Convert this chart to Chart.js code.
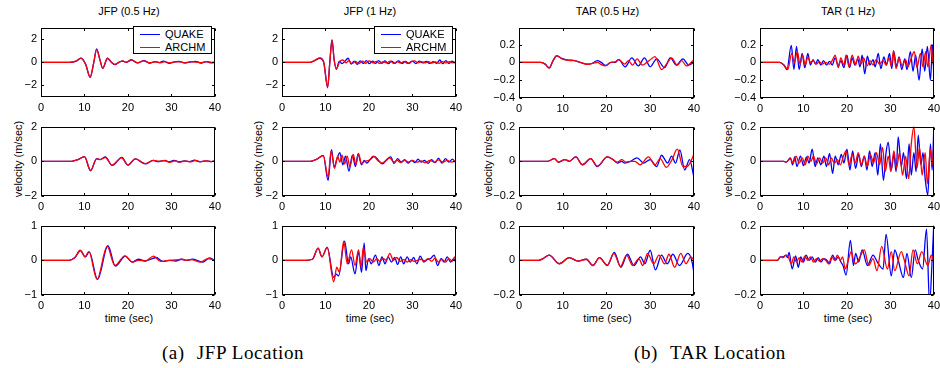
<!DOCTYPE html>
<html lang="en">
<head>
<meta charset="UTF-8" />
<title>QUAKE vs ARCHM velocity at JFP and TAR</title>
<script src="https://cdn.jsdelivr.net/npm/chart.js@4"></script>
<style>
	body {
		margin: 0;
		width: 940px;
		height: 368px;
		overflow: hidden;
		position: relative;
		background: #fff;
		color: #000;
		font-family: "Liberation Sans", Arial, sans-serif;
	}

	canvas {
		position: absolute;
	}

	.txt {
		position: absolute;
		font-size: 11px;
		line-height: 13px;
		white-space: nowrap;
		transform: translate(-50%, -50%);
	}

	.ylab {
		transform: translate(-50%, -50%) rotate(-90deg);
	}

	.caption {
		font-family: "Liberation Serif", "Times New Roman", serif;
		font-size: 19px;
		line-height: 20px;
		letter-spacing: 0.6px;
	}

	.caption .tag {
		margin-right: 12px;
	}

	.legend {
		position: absolute;
		width: 79px;
		height: 28px;
		box-sizing: border-box;
		border: 1px solid #000;
		background: #fff;
		font-size: 11px;
	}

	.legend .swatch {
		position: absolute;
		left: 6px;
		width: 20px;
		height: 0;
		border-top: 1.3px solid;
	}

	.legend .name {
		position: absolute;
		left: 31px;
		line-height: 13px;
	}
</style>
</head>
<body>
	<div class="txt" style="left:129px;top:10.5px">JFP (0.5 Hz)</div>
	<div class="txt" style="left:370px;top:10.5px">JFP (1 Hz)</div>
	<div class="txt" style="left:607.5px;top:10.5px">TAR (0.5 Hz)</div>
	<div class="txt" style="left:848px;top:10.5px">TAR (1 Hz)</div>

	<div class="txt ylab" style="left:18px;top:159px">velocity (m/sec)</div>
	<div class="txt ylab" style="left:258px;top:159px">velocity (m/sec)</div>
	<div class="txt ylab" style="left:488px;top:159px">velocity (m/sec)</div>
	<div class="txt ylab" style="left:728px;top:159px">velocity (m/sec)</div>

	<div class="txt" style="left:129px;top:318px">time (sec)</div>
	<div class="txt" style="left:370px;top:318px">time (sec)</div>
	<div class="txt" style="left:607.5px;top:318px">time (sec)</div>
	<div class="txt" style="left:848px;top:318px">time (sec)</div>

	<div class="txt caption" style="left:233px;top:353px"><span class="tag">(a)</span>JFP Location</div>
	<div class="txt caption" style="left:710px;top:353px"><span class="tag">(b)</span>TAR Location</div>

	<div id="charts"></div>

	<script>
		// --- data: [time (sec), velocity (m/sec)] ---
		const timeTicks = [0, 10, 20, 30, 40];
		const jfpRow1Ticks = [-2, 0, 2];
		const jfpRow2Ticks = [-2, 0, 2];
		const jfpRow3Ticks = [-1, 0, 1];
		const tarRow1Ticks = [-0.4, -0.2, 0, 0.2];
		const tarRow23Ticks = [-0.2, 0, 0.2];
		const seriesNames = ['QUAKE', 'ARCHM'];

		const jfp05Row1Quake = [[0,0],[6.5,0],[8,0.08],[9.2,0.35],[10.3,-0.2],[11.3,-1.3],[12.1,-0.1],[12.8,1.15],[13.5,0.3],[14.2,-0.52],[15.3,0.35],[16.2,0],[17,-0.2],[18,0.02],[18.8,0.1],[19.6,0],[20.8,0.2],[22.2,-0.05],[23.7,0.15],[25,-0.08],[26.3,0.05],[27.2,-0.02],[28.2,0.1],[29.5,-0.1],[30.5,0.02],[31.7,0.08],[33,-0.05],[34.2,0.02],[35.5,0.08],[36.8,-0.06],[38,0.05],[39.2,-0.05],[40,0]];
		const jfp05Row1Archm = [[0,0],[6.5,0],[8,0.1],[9.2,0.36],[10.3,-0.2],[11.3,-1.28],[12.1,-0.1],[12.8,1.12],[13.5,0.3],[14.2,-0.5],[15.3,0.33],[16.2,0],[17,-0.18],[18,0.02],[18.8,0.12],[19.6,0],[20.8,0.22],[22.2,-0.04],[23.6,0.12],[25,-0.05],[26.3,0.03],[27.5,-0.05],[28.5,0.06],[29.6,-0.05],[30.8,0.04],[32,0.03],[33.2,-0.06],[34.4,0.05],[35.6,0.02],[36.9,-0.04],[38.1,0.05],[39.3,0],[40,0.02]];

		const jfp1Row1Quake = [[0,0],[6.5,0],[7.5,0.15],[8.7,0.35],[9.6,0],[10.5,-2.2],[11,0],[11.5,1.95],[12,0.2],[12.5,-0.6],[13.2,0.1],[13.8,-0.12],[14.4,0.05],[15.2,0.35],[15.9,-0.15],[16.6,0.1],[17.3,-0.18],[18,0.12],[18.7,-0.1],[19.4,0.15],[20.1,-0.12],[20.8,0.1],[21.5,-0.1],[22.2,0.15],[23,-0.08],[23.7,0.12],[24.5,-0.12],[25.2,0.1],[26,-0.08],[26.8,0.12],[27.6,-0.1],[28.4,0.08],[29.2,-0.1],[30,0.1],[30.8,-0.12],[31.6,0.1],[32.4,-0.05],[33.2,0.08],[34,-0.1],[34.8,0.05],[35.6,-0.08],[36.3,0.2],[37,-0.12],[37.7,0.15],[38.4,-0.1],[39.1,0.1],[39.8,-0.05],[40,0.05]];
		const jfp1Row1Archm = [[0,0],[6.5,0],[7.5,0.15],[8.7,0.38],[9.6,0],[10.5,-2.15],[11,0],[11.5,1.9],[12,0.2],[12.5,-0.55],[13.3,0.05],[14,0.2],[14.7,-0.05],[15.4,0.15],[16.1,-0.1],[16.9,0.08],[17.7,-0.12],[18.5,0.1],[19.3,-0.08],[20.1,0.12],[20.9,-0.05],[21.7,0.08],[22.5,-0.1],[23.3,0.05],[24.1,-0.05],[24.9,0.1],[25.7,-0.08],[26.5,0.05],[27.3,-0.06],[28.1,0.08],[28.9,-0.1],[29.7,0.05],[30.5,0.12],[31.3,-0.05],[32.1,0.06],[32.9,-0.04],[33.7,0.05],[34.5,-0.06],[35.3,0.04],[36.1,-0.08],[36.9,0.06],[37.7,-0.05],[38.5,0.05],[39.3,-0.05],[40,0.05]];

		const tar05Row1Quake = [[0,0],[5,0],[6,-0.02],[6.9,-0.063],[7.8,0.02],[8.6,0.072],[9.8,0.045],[11.3,0.025],[12.5,0.022],[14,0],[15.6,-0.02],[16.8,-0.01],[17.9,0.02],[18.8,0],[19.8,-0.035],[21,0],[22,0],[22.8,0.03],[24.3,-0.05],[25.8,0.05],[27.3,-0.04],[28.7,0.05],[30,-0.05],[31.5,0.04],[33.3,-0.06],[34.6,0.05],[36,-0.03],[37.5,0.04],[38.8,-0.03],[40,0]];
		const tar05Row1Archm = [[0,0],[5,0],[6,-0.02],[6.9,-0.065],[7.8,0.02],[8.6,0.075],[9.8,0.04],[11.3,0.022],[12.5,0.02],[14,0],[15.6,-0.022],[16.8,-0.012],[18,0],[18.6,-0.02],[19.8,-0.04],[21,0],[22,0.005],[22.8,0.03],[24.2,-0.02],[25,0.02],[26,-0.03],[27,0.04],[28.2,-0.03],[29.8,0.02],[31.1,0.065],[32.6,-0.08],[34,0],[34.9,0.05],[36.2,-0.03],[37.2,0.02],[38.3,-0.04],[40,0.03]];

		const tar1Row1Quake = [[0,0],[4.5,0],[5.5,-0.03],[6.2,-0.08],[7.2,0.19],[7.8,-0.08],[8.4,0.18],[9,-0.08],[9.7,0.1],[10.3,-0.06],[11,0.1],[11.6,-0.03],[12.2,0.03],[12.8,-0.02],[13.3,0.03],[14,-0.03],[14.6,0.02],[15.3,-0.03],[16,0.01],[16.6,-0.03],[17.3,0.05],[18,-0.04],[18.6,0.02],[19.3,-0.06],[20,0.08],[20.6,-0.06],[21.2,0.05],[21.8,-0.03],[22.5,0.04],[23,-0.05],[23.5,0.08],[24.1,-0.13],[24.7,0.07],[25.3,-0.03],[26,0.03],[26.5,-0.05],[27.2,0.1],[27.8,-0.07],[28.5,0.06],[29.1,-0.03],[29.8,0.1],[30.3,-0.07],[30.8,0.12],[31.4,-0.05],[32,0.06],[32.6,-0.08],[33.3,0.04],[33.8,-0.08],[34.6,0.12],[35.2,-0.1],[35.8,0.08],[36.6,-0.2],[37.3,0.15],[37.9,-0.1],[38.5,0.18],[39.2,-0.2],[39.7,0.2],[40,-0.2]];
		const tar1Row1Archm = [[0,0],[4.5,0],[5.5,-0.03],[6.4,-0.08],[7.3,0.1],[7.9,0],[8.6,0.12],[9.2,-0.02],[9.8,0.08],[10.4,-0.03],[11,0.06],[11.6,0],[12.2,0.02],[13,-0.02],[13.6,0.01],[14.3,-0.02],[15,0],[16,-0.02],[16.7,0.03],[17.3,0.08],[18,-0.06],[18.6,0.05],[19.3,-0.03],[19.8,0.08],[20.5,-0.05],[21.2,0.08],[22,-0.03],[22.6,0.07],[23.2,-0.02],[23.8,0.05],[24.6,-0.04],[25.3,0.02],[26,-0.03],[26.7,0.03],[27.5,-0.02],[28.3,0.02],[29,-0.03],[29.7,0.05],[30.2,-0.04],[30.7,0.13],[31.3,-0.07],[32,0.05],[32.7,-0.04],[33.5,0.03],[34,-0.05],[34.8,0.05],[35.5,0.12],[36.1,-0.06],[36.9,0.1],[37.5,-0.05],[38.1,0.12],[38.6,-0.05],[39.4,0.2],[39.8,-0.02],[40,0.05]];

		const jfp05Row2Quake = [[0,0],[7,0],[8.5,0.1],[10,0.27],[11.4,-0.55],[12.8,0.15],[13.6,0.1],[14.8,0.25],[16.4,-0.24],[18.6,0.23],[20,-0.22],[21.7,0.14],[24,-0.15],[25.8,0.05],[27,-0.02],[28.2,0.04],[29.5,-0.03],[30.6,0.05],[31.8,-0.04],[33,0.02],[34.2,-0.02],[35.3,0.06],[36.6,-0.03],[38,0.02],[39.2,-0.02],[40,0.02]];
		const jfp05Row2Archm = [[0,0],[7,0],[8.5,0.1],[10,0.27],[11.4,-0.52],[12.8,0.14],[13.6,0.1],[14.8,0.22],[16.3,-0.22],[18.5,0.2],[20,-0.2],[21.7,0.14],[24,-0.13],[25.8,0.05],[27.3,0],[28.5,0.05],[29.6,-0.06],[30.8,0.02],[32,-0.05],[33.2,0.03],[34.5,-0.03],[35.5,0.05],[36.8,-0.02],[38,0.03],[39.3,-0.02],[40,0.02]];

		const jfp1Row2Quake = [[0,0],[6.5,0],[8,0.12],[9.5,0.34],[10.6,-1.1],[11.4,0.67],[12,-0.35],[12.6,0.1],[13.3,0.5],[14,-0.2],[14.6,0.3],[15.4,-0.56],[16.2,0.35],[16.9,-0.3],[17.5,0.42],[18.3,-0.2],[18.9,0.05],[19.5,-0.1],[20.3,0.1],[21.3,0.28],[22.2,0.05],[23.1,-0.15],[24.1,0.1],[25,0.25],[25.8,-0.12],[26.6,0.15],[27.4,-0.05],[28.2,0.1],[29,-0.1],[29.8,0.05],[30.6,-0.08],[31.3,0.12],[32,-0.05],[32.8,0.05],[33.6,-0.12],[34.4,0.1],[35.2,-0.08],[36,0.18],[36.8,-0.1],[37.6,0.15],[38.4,-0.05],[39.2,0.12],[40,-0.1]];
		const jfp1Row2Archm = [[0,0],[6.5,0],[8,0.12],[9.5,0.33],[10.6,-0.9],[11.3,0.6],[12.1,-0.4],[12.8,0.3],[13.3,-0.05],[13.8,0.35],[14.4,-0.15],[15,0.3],[15.6,-0.3],[16.4,0.4],[17,-0.2],[17.6,0.45],[18.3,-0.15],[19,0],[20,0.05],[21,0.3],[22,0.05],[23,-0.1],[24,0.05],[24.8,0.2],[25.7,-0.05],[26.5,0.05],[27.3,-0.08],[28.2,0.05],[29.2,-0.05],[30,0.05],[31,-0.05],[32,0.02],[33,-0.08],[34,0.05],[35,-0.05],[36,0.08],[37,-0.05],[38,0.05],[39,-0.05],[40,0.05]];

		const tar05Row2Quake = [[0,0],[6.5,0],[8.1,0.015],[9,-0.005],[10.5,0.01],[11.5,0],[13,0.025],[14.5,-0.02],[16.4,0.015],[17.9,-0.03],[20.2,0.025],[21.5,0.01],[22.5,-0.01],[23.5,0],[24.2,-0.01],[25.5,0],[27,0.02],[28.5,-0.01],[30,0.01],[31.5,-0.03],[32.6,0.035],[34,-0.01],[34.9,0.03],[35.8,-0.01],[36.8,0.065],[37.9,-0.05],[39,0.01],[40,-0.09]];
		const tar05Row2Archm = [[0,0],[6.5,0],[8.1,0.015],[9,-0.005],[10.5,0.01],[11.5,0],[13,0.025],[14.5,-0.02],[16.4,0.015],[17.9,-0.028],[20.2,0.025],[21.5,0.01],[22.5,-0.005],[23.5,0.01],[24.5,-0.005],[25.5,0],[26.5,0],[27.7,-0.02],[29.6,0.025],[31.1,-0.02],[32.3,0.015],[33.7,-0.035],[35,0.01],[36.2,0.07],[37.5,-0.03],[38.5,-0.03],[39.3,0],[40,0.04]];

		const tar1Row2Quake = [[0,0],[5.5,0],[6,-0.005],[7,0.02],[7.5,-0.02],[8,0.025],[8.5,-0.03],[9.3,0.03],[10,-0.025],[10.7,0.025],[11.3,-0.01],[12,0.07],[12.7,-0.03],[13.3,0.02],[14,-0.02],[14.7,0.03],[15.3,-0.03],[16,0.045],[16.7,-0.07],[17.3,0.03],[18,-0.02],[18.7,0.04],[19.3,-0.01],[20,0.07],[20.7,-0.05],[21.3,0.06],[22,-0.04],[22.7,0.04],[23.3,-0.03],[24,0.03],[24.6,-0.05],[25.2,0.06],[25.8,-0.03],[26.5,0.05],[27.1,-0.08],[27.7,0.1],[28.4,-0.11],[29,0.05],[29.5,0.11],[30.2,-0.05],[30.8,0.04],[31.3,-0.06],[31.8,0.14],[32.5,-0.03],[33,0.05],[33.7,-0.1],[34.3,0.1],[34.8,-0.08],[35.4,0.05],[35.9,-0.06],[36.4,0.15],[37,-0.02],[37.5,0.05],[38,-0.1],[38.6,-0.195],[39.2,0.1],[39.6,-0.05],[40,0.2]];
		const tar1Row2Archm = [[0,0],[5.5,0],[6,-0.005],[7,0.015],[7.6,-0.01],[8.3,0.03],[9,-0.01],[9.7,0.02],[10.4,-0.02],[11,0.03],[11.7,0],[12.3,0.03],[13,-0.015],[13.7,0.02],[14.4,-0.01],[15.1,0.02],[15.8,-0.02],[16.4,0.02],[17.1,-0.01],[17.8,0.01],[18.5,-0.02],[19.2,0.03],[19.8,0.06],[20.5,-0.02],[21.2,0.04],[21.9,-0.01],[22.6,0.05],[23.3,-0.02],[24,0.03],[24.7,-0.03],[25.4,0.04],[26.1,-0.01],[26.8,0.05],[27.5,-0.02],[28.2,0.08],[28.8,-0.06],[29.5,0.03],[30.1,-0.06],[30.8,0.06],[31.4,-0.04],[32.1,0.05],[32.8,-0.08],[33.5,0.03],[34.2,-0.1],[34.8,0.1],[35.4,0.2],[36.1,-0.04],[36.7,0.08],[37.3,-0.08],[38,0.05],[38.5,-0.13],[39.2,0.07],[39.6,-0.02],[40,0.1]];

		const jfp05Row3Quake = [[0,0],[6.5,0],[7.8,0.08],[9.1,0.28],[10.2,0.1],[11.1,0.24],[13,-0.55],[15.4,0.42],[17.1,-0.17],[19.4,0.12],[21,-0.05],[22.4,0.03],[24,-0.02],[26.5,0.08],[28,-0.03],[29.5,0],[31,-0.02],[32.3,0.03],[33.5,0],[34.8,0.03],[37.2,-0.05],[38.8,0.07],[40,-0.01]];
		const jfp05Row3Archm = [[0,0],[6.5,0],[7.8,0.08],[9,0.29],[10.1,0.1],[11,0.25],[12.9,-0.55],[15.2,0.4],[17,-0.15],[19.3,0.13],[21,-0.05],[22.5,0],[24,-0.02],[25.9,0.12],[27.5,-0.03],[29.5,0],[31,0.01],[32.5,0.03],[33.5,0],[34.6,0.02],[36.7,-0.05],[38.4,0.05],[40,0]];

		const jfp1Row3Quake = [[0,0],[5.5,0],[7,0.03],[8.3,0.35],[9.2,0.1],[10.4,0.37],[11.9,-0.49],[12.5,-0.4],[13,-0.45],[14.4,0.55],[15.3,-0.1],[15.8,0.1],[16.8,-0.39],[17.6,0.25],[18.3,-0.35],[18.9,0.5],[19.3,-0.3],[19.9,0.05],[20.5,-0.1],[21.5,0.15],[22.3,-0.15],[23,0.1],[23.7,-0.1],[24.4,0.1],[25.2,-0.05],[25.9,0.08],[26.6,-0.12],[27.3,0.1],[28,-0.1],[28.8,0.1],[29.5,-0.05],[30.3,0.08],[31,-0.1],[31.8,0.12],[32.6,-0.05],[33.4,0.02],[34.2,0.05],[35,0.15],[35.8,-0.15],[36.6,0.05],[37.3,-0.05],[38,0.1],[38.8,-0.05],[39.5,0.05],[40,-0.05]];
		const jfp1Row3Archm = [[0,0],[5.5,0],[7,0.03],[8.3,0.35],[9.2,0.1],[10.4,0.37],[11.9,-0.62],[12.6,-0.2],[13.2,-0.35],[14.2,0.55],[15,-0.1],[16,0.3],[16.8,-0.15],[17.6,0.3],[18.2,-0.2],[18.7,0.37],[19.5,-0.05],[20.2,0.05],[21,-0.05],[21.8,0.05],[22.5,-0.03],[23.3,0.05],[24,0],[24.8,0.2],[25.6,0],[26.4,0.08],[27.2,-0.03],[28,0.02],[28.8,-0.05],[29.6,0.02],[30.4,-0.03],[31.2,0],[32,0.03],[32.8,-0.02],[33.6,0.05],[34.4,-0.03],[35.2,0.06],[36,-0.05],[36.8,0.03],[37.6,-0.05],[38.4,0.05],[39.2,-0.03],[39.7,0.1],[40,0.05]];

		const tar05Row3Quake = [[0,0],[4.5,0],[5.5,0.01],[6.9,0.03],[9.2,-0.02],[11.5,0.015],[13.5,-0.005],[15.4,0.006],[16.9,-0.03],[18.4,0.015],[20.2,-0.03],[21.8,0.045],[23.3,-0.04],[24.8,0.035],[26.3,-0.03],[27.8,0.02],[28.8,-0.02],[30,0.058],[31.2,-0.055],[32.6,0.03],[33.9,-0.02],[35.2,0.035],[36.7,-0.03],[38.6,0.04],[39.5,0],[40,-0.07]];
		const tar05Row3Archm = [[0,0],[4.5,0],[5.5,0.01],[6.9,0.03],[9.2,-0.02],[11.5,0.015],[13.5,-0.005],[15.4,0.006],[16.9,-0.03],[18.4,0.015],[20.2,-0.028],[21.7,0.04],[23.2,-0.035],[24.6,0.03],[26,-0.03],[27.4,0.01],[28.3,-0.03],[29.4,0.04],[30.8,-0.02],[32,0.03],[33.3,-0.02],[34.3,0.035],[35.6,-0.04],[37,0.04],[38.2,-0.02],[39.3,0.02],[40,0]];

		const tar1Row3Quake = [[0,0],[4,0],[4.7,0.02],[5.3,0.02],[6,0.03],[6.3,0.015],[6.7,0.045],[7.4,-0.05],[8.2,0.025],[8.8,-0.04],[9.4,0.02],[10,-0.01],[10.6,0.03],[11.3,0],[12,0.02],[12.7,-0.01],[13.4,0.015],[14,-0.01],[14.7,0.01],[15.4,0],[16,-0.02],[16.7,0.03],[17.4,0],[18,0.02],[18.6,-0.01],[19.1,-0.03],[19.8,-0.085],[20.8,0.115],[21.5,-0.03],[22,0.04],[22.7,-0.01],[23.5,0.06],[24.7,-0.03],[26,0.03],[27,-0.01],[28.3,-0.05],[29,0.15],[30.2,-0.09],[31,0.06],[31.8,0],[33,-0.1],[33.8,0.04],[34.8,-0.1],[35.7,0.06],[36.4,0],[37.4,-0.05],[38.3,0.18],[39,-0.25],[39.6,0],[40,0.22]];
		const tar1Row3Archm = [[0,0],[4,0],[4.7,0.02],[5.3,0.015],[6,0.03],[6.5,0.02],[7.2,-0.02],[7.8,0.02],[8.4,-0.01],[9,0.015],[9.7,-0.01],[10.3,0.025],[11,0],[11.6,0.02],[12.3,-0.01],[13,0.01],[13.7,-0.005],[14.4,0.01],[15.1,0],[15.8,-0.02],[16.5,0.02],[17.2,0],[17.8,0.03],[18.5,0],[19,0.02],[19.6,-0.05],[20.3,0],[21,0.05],[21.5,0],[22,-0.02],[23,0.02],[24,0.06],[25,-0.03],[26,0.01],[26.9,-0.06],[28,0.08],[29.3,-0.05],[30.2,0.05],[31,-0.06],[32.5,0.05],[33.2,0],[34.3,-0.09],[35.2,0.06],[36.2,-0.02],[37.2,0.05],[38.6,-0.03],[39.4,0.03],[40,0]];

		// --- layout of the 3 x 4 grid (pixel edges of each plot box) ---
		const colLeft = [41, 282, 519, 760];
		const colRight = [217, 458, 696, 936];
		const rowTop = [23, 122, 221];
		const rowBottom = [97, 196, 295];
		const AXIS_W = 44;
		const AXIS_H = 22;
		const PAD_TOP = 6;
		const PAD_RIGHT = 8;

		const panels = [
			{ row: 0, col: 0, quake: jfp05Row1Quake, archm: jfp05Row1Archm, min: -3, max: 3, ticks: jfpRow1Ticks, legend: true },
			{ row: 0, col: 1, quake: jfp1Row1Quake, archm: jfp1Row1Archm, min: -3, max: 3, ticks: jfpRow1Ticks, legend: true },
			{ row: 0, col: 2, quake: tar05Row1Quake, archm: tar05Row1Archm, min: -0.4, max: 0.39, ticks: tarRow1Ticks, bottom: 98 },
			{ row: 0, col: 3, quake: tar1Row1Quake, archm: tar1Row1Archm, min: -0.4, max: 0.39, ticks: tarRow1Ticks, bottom: 98 },
			{ row: 1, col: 0, quake: jfp05Row2Quake, archm: jfp05Row2Archm, min: -2, max: 2, ticks: jfpRow2Ticks },
			{ row: 1, col: 1, quake: jfp1Row2Quake, archm: jfp1Row2Archm, min: -2, max: 2, ticks: jfpRow2Ticks },
			{ row: 1, col: 2, quake: tar05Row2Quake, archm: tar05Row2Archm, min: -0.2, max: 0.2, ticks: tarRow23Ticks },
			{ row: 1, col: 3, quake: tar1Row2Quake, archm: tar1Row2Archm, min: -0.2, max: 0.2, ticks: tarRow23Ticks },
			{ row: 2, col: 0, quake: jfp05Row3Quake, archm: jfp05Row3Archm, min: -1, max: 1, ticks: jfpRow3Ticks },
			{ row: 2, col: 1, quake: jfp1Row3Quake, archm: jfp1Row3Archm, min: -1, max: 1, ticks: jfpRow3Ticks },
			{ row: 2, col: 2, quake: tar05Row3Quake, archm: tar05Row3Archm, min: -0.2, max: 0.2, ticks: tarRow23Ticks },
			{ row: 2, col: 3, quake: tar1Row3Quake, archm: tar1Row3Archm, min: -0.2, max: 0.2, ticks: tarRow23Ticks },
		];

		const toPoints = (pairs) => pairs.map(([x, y]) => ({ x, y }));
		const fmtTick = (value) => String(Number(value.toFixed(2))).replace('-', '\u2212');

		// box round the plot with inward tick marks, matlab style
		const boxPlugin = {
			id: 'boxPlugin',
			afterDraw(chart) {
				const { ctx, chartArea: a, scales: { x, y } } = chart;
				const l = Math.round(a.left) + 0.5;
				const r = Math.round(a.right) - 0.5;
				const t = Math.round(a.top) + 0.5;
				const b = Math.round(a.bottom) - 0.5;
				ctx.save();
				ctx.strokeStyle = '#000';
				ctx.lineWidth = 1;
				ctx.strokeRect(l, t, r - l, b - t);
				ctx.beginPath();
				x.ticks.forEach((tk) => {
					const px = Math.round(x.getPixelForValue(tk.value)) + 0.5;
					ctx.moveTo(px, b); ctx.lineTo(px, b - 2.5);
					ctx.moveTo(px, t); ctx.lineTo(px, t + 2.5);
				});
				y.ticks.forEach((tk) => {
					const py = Math.round(y.getPixelForValue(tk.value)) + 0.5;
					ctx.moveTo(l, py); ctx.lineTo(l + 2.5, py);
					ctx.moveTo(r, py); ctx.lineTo(r - 2.5, py);
				});
				ctx.stroke();
				ctx.restore();
			},
		};

		const host = document.getElementById('charts');
		const tickFont = { family: '"Liberation Sans", Arial, sans-serif', size: 11 };

		panels.forEach((p) => {
			const L = colLeft[p.col];
			const R = colRight[p.col];
			const T = rowTop[p.row];
			const B = p.bottom || rowBottom[p.row];
			const canvas = document.createElement('canvas');
			const w = (R - L) + AXIS_W + PAD_RIGHT;
			const h = (B - T) + PAD_TOP + AXIS_H;
			canvas.width = w;
			canvas.height = h;
			canvas.style.width = w + 'px';
			canvas.style.height = h + 'px';
			canvas.style.left = (L - AXIS_W) + 'px';
			canvas.style.top = (T - PAD_TOP) + 'px';
			host.appendChild(canvas);

			new Chart(canvas, {
				type: 'line',
				data: {
					datasets: [
						{ label: seriesNames[0], data: toPoints(p.quake), borderColor: '#0000ff', order: 2 },
						{ label: seriesNames[1], data: toPoints(p.archm), borderColor: '#ff0000', order: 1 },
					],
				},
				options: {
					responsive: false,
					animation: false,
					events: [],
					devicePixelRatio: 1,
					layout: { padding: { top: PAD_TOP, right: PAD_RIGHT, left: 0, bottom: 0 } },
					elements: {
						point: { radius: 0 },
						line: { borderWidth: 1.3, cubicInterpolationMode: 'monotone', fill: false },
					},
					plugins: { legend: { display: false }, tooltip: { enabled: false } },
					scales: {
						x: {
							type: 'linear',
							min: 0,
							max: 40,
							grid: { display: false, drawTicks: false },
							border: { display: false },
							ticks: { color: '#000', font: tickFont, padding: 4, maxRotation: 0, callback: fmtTick },
							afterBuildTicks: (scale) => { scale.ticks = timeTicks.map((value) => ({ value })); },
							afterFit: (scale) => { scale.height = AXIS_H; },
						},
						y: {
							type: 'linear',
							min: p.min,
							max: p.max,
							grid: { display: false, drawTicks: false },
							border: { display: false },
							ticks: { color: '#000', font: tickFont, padding: 4, callback: fmtTick },
							afterBuildTicks: (scale) => { scale.ticks = p.ticks.map((value) => ({ value })); },
							afterFit: (scale) => { scale.width = AXIS_W; },
						},
					},
				},
				plugins: [boxPlugin],
			});

			if (p.legend) {
				const box = document.createElement('div');
				box.className = 'legend';
				box.style.left = (R - 84) + 'px';
				box.style.top = (T + 3) + 'px';
				box.innerHTML =
					'<div class="swatch" style="top:6.5px;border-color:#0000ff"></div><div class="name" style="top:0.5px">' + seriesNames[0] + '</div>' +
					'<div class="swatch" style="top:19.5px;border-color:#ff0000"></div><div class="name" style="top:13.5px">' + seriesNames[1] + '</div>';
				document.body.appendChild(box);
			}
		});
	</script>
</body>
</html>
